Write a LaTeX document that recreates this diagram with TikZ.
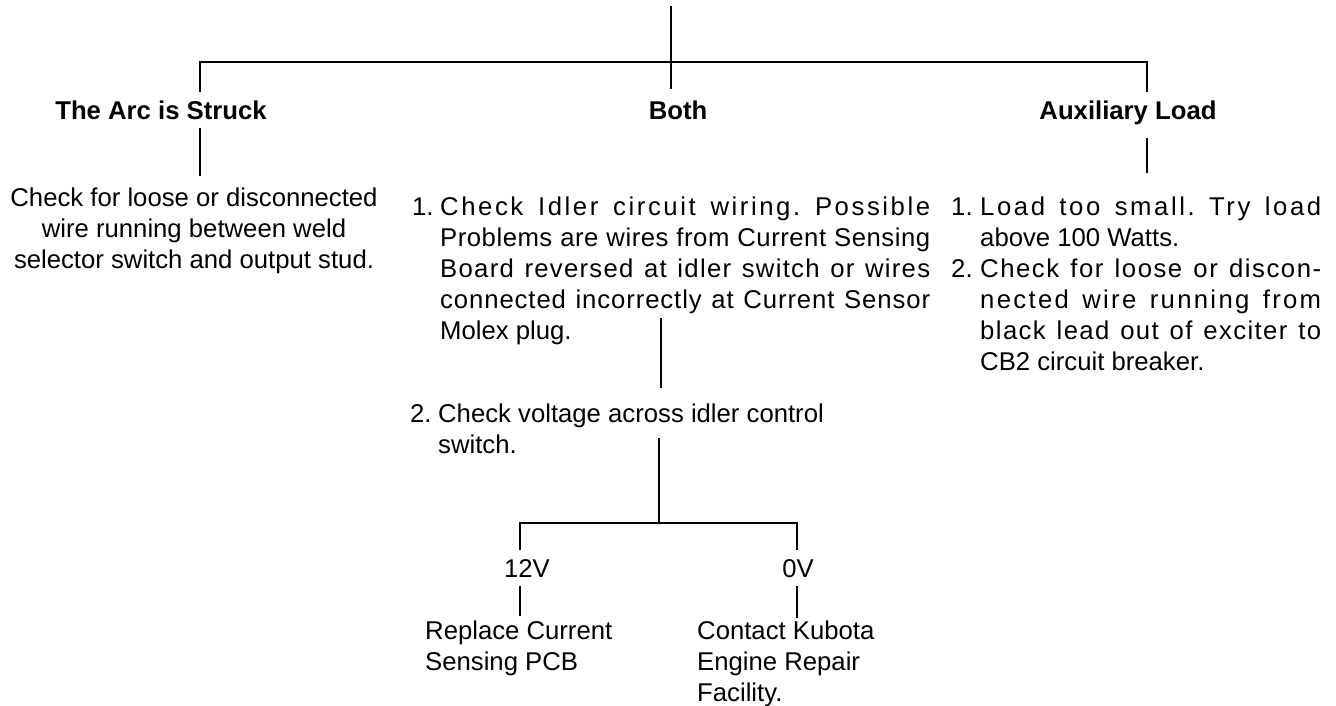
\documentclass[tikz,border=0pt]{standalone}
\usepackage{fontspec}
\setmainfont{Liberation Sans}
\usetikzlibrary{positioning, calc}
\frenchspacing
\newcommand{\hangitem}[2]{\par\noindent\hangindent=#1\hangafter=1\makebox[#1][l]{#2}\ignorespaces}
\newcommand{\track}[2]{{\addfontfeature{LetterSpace=#1}#2}}

\begin{document}
\begin{tikzpicture}[x=1pt, y=-1pt,
	every node/.style={font=\fontsize{25.7}{31}\selectfont, inner sep=0pt},
	head/.style={font=\fontsize{25.7}{31}\selectfont\bfseries, inner ysep=8pt, anchor=base},
	volt/.style={inner ysep=8.5pt, anchor=base},
	link/.style={line width=2.3pt}]
	\useasboundingbox (0,0) rectangle (1336,706);
	% top split
	\coordinate (root) at (671,6);
	\coordinate (rootend) at (671,89);
	\coordinate (busL) at (200,62);
	\coordinate (busR) at (1147,62);
	\node[head] (arc) at (161,119.2) {The Arc is Struck};
	\node[head] (both) at (678,119.2) {Both};
	\node[head] (aux) at (1128,119.2) {Auxiliary Load};
	\draw[link] (root) -- (rootend);
	\draw[link] (busL |- arc.north) -- (busL) -- (busR) -- (busR |- aux.north);
	% answers
	\node[anchor=north, align=center] (arcnote) at (194,187.7)
		{Check for loose or disconnected\\wire running between weld\\selector switch and output stud.};
	\node[anchor=north west, text width=518pt, align=justify] (idler) at (412,184.7)
		{\hangitem{28pt}{1.}\track{10}{Check Idler circuit wiring. Possible}\linebreak
		\track{2}{Problems are wires from Current Sensing}\linebreak
		\track{5}{Board reversed at idler switch or wires}\linebreak
		\track{3.5}{connected incorrectly at Current Sensor}\linebreak
		Molex plug.\par};
	\node[anchor=north west, text width=370pt, align=justify] (load) at (951,184.7)
		{\hangitem{29pt}{1.}\track{10}{Load too small. Try load}\linebreak above 100 Watts.
		\hangitem{29pt}{2.}\track{6}{Check for loose or discon-}\linebreak
		\track{9}{nected wire running from}\linebreak
		\track{5.5}{black lead out of exciter to}\linebreak
		CB2 circuit breaker.\par};
	\draw[link] (busL |- arc.south) -- ([yshift=12pt]arcnote.north -| busL);
	\draw[link] ([yshift=-5pt]busR |- aux.south) -- ([yshift=12pt]load.north -| busR);
	% idler voltage
	\node[anchor=north west, align=left] (check) at (410,403.7)
		{\makebox[28pt][l]{2.}Check voltage across idler control\\\hspace*{28pt}switch.};
	\coordinate (molex) at (661,318);
	\draw[link] (molex) -- ([yshift=15.7pt]check.north -| molex);
	\coordinate (vtop) at (659,438);
	\coordinate (vhub) at (659,523);
	\coordinate (vL) at (520,523);
	\coordinate (vR) at (797,523);
	\node[volt] (hi) at (527,577) {12V};
	\node[volt] (lo) at (798,577) {0V};
	\node[anchor=north west, align=left] (pcb) at (425,620.7) {Replace Current\\Sensing PCB};
	\node[anchor=north west, align=left] (kubota) at (697,620.7) {Contact Kubota\\Engine Repair\\Facility.};
	\draw[link] (vtop) -- (vhub);
	\draw[link] (vL |- hi.north) -- (vL) -- (vR) -- (vR |- lo.north);
	\draw[link] (vL |- hi.south) -- ([yshift=5pt]pcb.north -| vL);
	\draw[link] (vR |- lo.south) -- ([yshift=3pt]kubota.north -| vR);
\end{tikzpicture}
\end{document}
